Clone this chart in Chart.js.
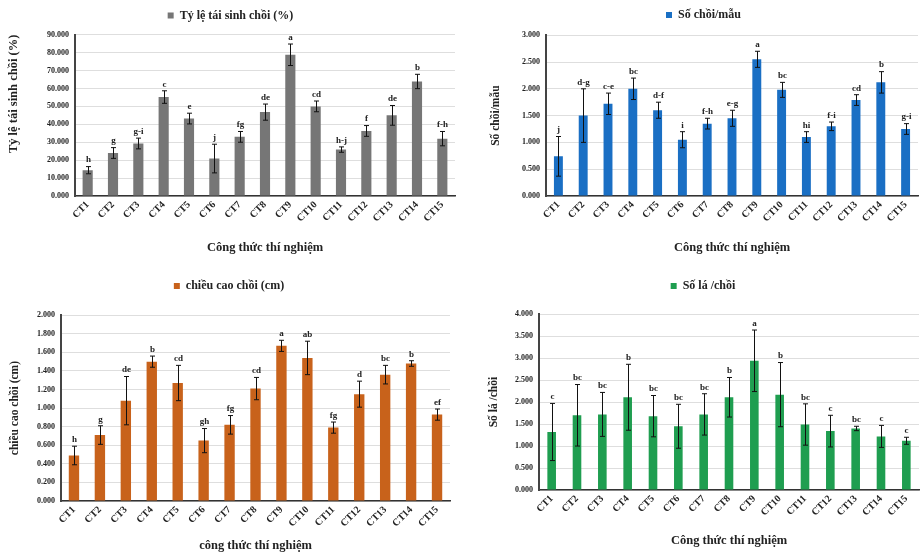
<!DOCTYPE html>
<html>
<head>
<meta charset="utf-8">
<script src="https://cdn.jsdelivr.net/npm/chart.js@4.4.1/dist/chart.umd.min.js"></script>
<style>
  body { margin: 0; background: #fff; }
  .panel { position: absolute; }
</style>
</head>
<body>
<div class="panel" style="left:0;top:0;width:461px;height:265px"><canvas id="c1" width="461" height="265"></canvas></div>
<div class="panel" style="left:461px;top:0;width:461px;height:265px"><canvas id="c2" width="461" height="265"></canvas></div>
<div class="panel" style="left:0;top:272px;width:461px;height:281px"><canvas id="c3" width="461" height="281"></canvas></div>
<div class="panel" style="left:461px;top:272px;width:461px;height:281px"><canvas id="c4" width="461" height="281"></canvas></div>
<script>
// công thức thí nghiệm
const categories = ['CT1', 'CT2', 'CT3', 'CT4', 'CT5', 'CT6', 'CT7', 'CT8', 'CT9', 'CT10', 'CT11', 'CT12', 'CT13', 'CT14', 'CT15'];

// Tỷ lệ tái sinh chồi (%)
const regenRate = [14.4, 24.0, 29.3, 55.2, 43.2, 20.9, 33.0, 46.8, 78.8, 50.0, 25.9, 36.3, 45.0, 63.9, 32.0];
const regenErr = [2.0, 3.0, 3.0, 3.5, 3.0, 8.0, 3.0, 4.5, 6.0, 3.0, 1.5, 3.0, 5.5, 4.0, 4.0];
const regenLetters = ['h', 'g', 'g-i', 'c', 'e', 'j', 'fg', 'de', 'a', 'cd', 'h-j', 'f', 'de', 'b', 'f-h'];

// Số chồi/mẫu
const shootCount = [0.74, 1.50, 1.72, 2.00, 1.60, 1.05, 1.35, 1.45, 2.55, 1.98, 1.10, 1.30, 1.79, 2.12, 1.25];
const shootErr = [0.37, 0.50, 0.20, 0.20, 0.15, 0.15, 0.10, 0.15, 0.15, 0.14, 0.10, 0.08, 0.10, 0.20, 0.10];
const shootLetters = ['j', 'd-g', 'c-e', 'bc', 'd-f', 'i', 'f-h', 'e-g', 'a', 'bc', 'hi', 'f-i', 'cd', 'b', 'g-i'];

// chiều cao chồi (cm)
const shootHeight = [0.49, 0.71, 1.08, 1.50, 1.27, 0.65, 0.82, 1.21, 1.67, 1.54, 0.79, 1.15, 1.36, 1.48, 0.93];
const heightErr = [0.10, 0.10, 0.26, 0.06, 0.19, 0.13, 0.10, 0.12, 0.06, 0.18, 0.06, 0.14, 0.10, 0.03, 0.06];
const heightLetters = ['h', 'g', 'de', 'b', 'cd', 'gh', 'fg', 'cd', 'a', 'ab', 'fg', 'd', 'bc', 'b', 'ef'];

// Số lá /chồi
const leafCount = [1.32, 1.70, 1.72, 2.11, 1.68, 1.45, 1.72, 2.11, 2.94, 2.17, 1.49, 1.34, 1.40, 1.22, 1.12];
const leafErr = [0.65, 0.70, 0.50, 0.75, 0.47, 0.50, 0.47, 0.45, 0.70, 0.73, 0.47, 0.36, 0.05, 0.25, 0.08];
const leafLetters = ['c', 'bc', 'bc', 'b', 'bc', 'bc', 'bc', 'b', 'a', 'b', 'bc', 'c', 'bc', 'c', 'c'];

const FONT = "'Liberation Serif', 'DejaVu Serif', serif";

// vẽ thanh sai số và chữ cái phân hạng phía trên mỗi cột
const errorBarPlugin = {
    id: 'errorBars',
    afterDatasetsDraw(chart, args, opts) {
        const ctx = chart.ctx;
        const y = chart.scales.y;
        const meta = chart.getDatasetMeta(0);
        const values = chart.data.datasets[0].data;
        ctx.save();
        ctx.strokeStyle = '#111';
        ctx.lineWidth = 1;
        meta.data.forEach((bar, i) => {
            const v = values[i], e = opts.errors[i];
            const top = y.getPixelForValue(v + e);
            const bottom = y.getPixelForValue(Math.max(0, v - e));
            const x = Math.round(bar.x) + 0.5;
            ctx.beginPath();
            ctx.moveTo(x, top);
            ctx.lineTo(x, bottom);
            ctx.moveTo(x - 2.5, top);
            ctx.lineTo(x + 2.5, top);
            ctx.moveTo(x - 2.5, bottom);
            ctx.lineTo(x + 2.5, bottom);
            ctx.stroke();
            ctx.fillStyle = '#222';
            ctx.font = 'bold 9px ' + FONT;
            ctx.textAlign = 'center';
            ctx.textBaseline = 'bottom';
            ctx.fillText(opts.letters[i], x, top - 2);
        });
        ctx.restore();
    }
};

function makeChart(id, cfg) {
    new Chart(document.getElementById(id), {
        type: 'bar',
        data: {
            labels: categories,
            datasets: [{
                label: cfg.label,
                data: cfg.values,
                backgroundColor: cfg.color,
                borderWidth: 0,
                barPercentage: cfg.barPct,
                categoryPercentage: 1
            }]
        },
        options: {
            responsive: false,
            animation: false,
            layout: { padding: cfg.padding },
            plugins: {
                legend: {
                    position: 'top',
                    labels: {
                        boxWidth: 6,
                        boxHeight: 6,
                        padding: cfg.legendPad,
                        color: '#222',
                        font: { family: FONT, size: 12, weight: 'bold' }
                    }
                },
                // khoảng trống giữa chú giải và vùng vẽ
                subtitle: {
                    display: true,
                    text: '',
                    weight: 500,
                    font: { size: 1 },
                    padding: { top: 0, bottom: cfg.gap }
                },
                tooltip: { enabled: false },
                errorBars: { errors: cfg.errors, letters: cfg.letters }
            },
            scales: {
                x: {
                    grid: { display: false, drawTicks: false },
                    border: { color: '#333', width: 1.5 },
                    ticks: {
                        color: '#222',
                        maxRotation: 45,
                        minRotation: 45,
                        padding: 3,
                        font: { family: FONT, size: 10, weight: 'bold' }
                    },
                    title: {
                        display: true,
                        text: cfg.xTitle,
                        color: '#222',
                        padding: { top: 0, bottom: cfg.xTitleBottom },
                        font: { family: FONT, size: 12.5, weight: 'bold' }
                    },
                    afterFit(scale) { scale.height = cfg.xHeight; }
                },
                y: {
                    min: 0,
                    max: cfg.max,
                    grid: { color: '#dedede', drawTicks: false },
                    border: { color: '#444', width: 2 },
                    ticks: {
                        stepSize: cfg.step,
                        color: '#222',
                        padding: 6,
                        font: { family: FONT, size: 8, weight: 'bold' },
                        callback: v => v.toFixed(3)
                    },
                    title: {
                        display: true,
                        text: cfg.yTitle,
                        align: cfg.yAlign || 'center',
                        color: '#222',
                        padding: { top: 0, bottom: 0 },
                        font: { family: FONT, size: cfg.yTitleSize || 11.5, weight: 'bold' }
                    },
                    afterFit(scale) { scale.width = cfg.yWidth; }
                }
            }
        },
        plugins: [errorBarPlugin]
    });
}

makeChart('c1', {
    label: 'Tỷ lệ tái sinh chồi (%)', values: regenRate, errors: regenErr, letters: regenLetters,
    color: '#767676', barPct: 0.4, max: 90, step: 10,
    yTitle: 'Tỷ lệ tái sinh chồi (%)', yAlign: 'end', yTitleSize: 12.5, xTitle: 'Công thức thí nghiệm',
    padding: { left: 6, right: 6, top: 2.5, bottom: 0 }, legendPad: 7, gap: 2,
    yWidth: 69, xHeight: 69, xTitleBottom: 10
});

makeChart('c2', {
    label: 'Số chồi/mẫu', values: shootCount, errors: shootErr, letters: shootLetters,
    color: '#1a6fc4', barPct: 0.36, max: 3, step: 0.5,
    yTitle: 'Số chồi/mẫu', xTitle: 'Công thức thí nghiệm',
    padding: { left: 28, right: 4, top: 2, bottom: 0 }, legendPad: 7, gap: 3,
    yWidth: 57, xHeight: 69, xTitleBottom: 10
});

makeChart('c3', {
    label: 'chiều cao chồi (cm)', values: shootHeight, errors: heightErr, letters: heightLetters,
    color: '#c8621b', barPct: 0.4, max: 2, step: 0.2,
    yTitle: 'chiều cao chồi (cm)', xTitle: 'công thức thí nghiệm',
    padding: { left: 8, right: 11, top: 3, bottom: 0 }, legendPad: 5, gap: 12,
    yWidth: 53, xHeight: 52, xTitleBottom: 0
});

makeChart('c4', {
    label: 'Số lá /chồi', values: leafCount, errors: leafErr, letters: leafLetters,
    color: '#1f9e50', barPct: 0.34, max: 4, step: 0.5,
    yTitle: 'Số lá /chồi', xTitle: 'Công thức thí nghiệm',
    padding: { left: 26, right: 3, top: 3, bottom: 0 }, legendPad: 5, gap: 11,
    yWidth: 52, xHeight: 63, xTitleBottom: 5
});
</script>
</body>
</html>
